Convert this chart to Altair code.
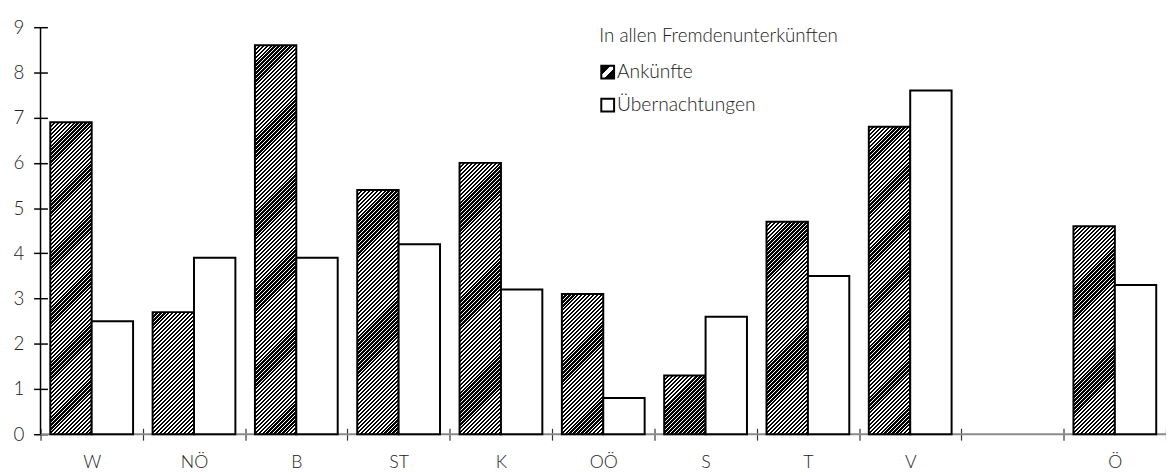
import altair as alt
import pandas as pd

# ---------------- data ----------------
categories = ["W", "NÖ", "B", "ST", "K", "OÖ", "S", "T", "V", " ", "Ö"]
bar_categories = ["W", "NÖ", "B", "ST", "K", "OÖ", "S", "T", "V", "Ö"]
ankuenfte = [6.9, 2.7, 8.6, 5.4, 6.0, 3.1, 1.3, 4.7, 6.8, 4.6]
uebernachtungen = [2.5, 3.9, 3.9, 4.2, 3.2, 0.8, 2.6, 3.5, 7.6, 3.3]
series = ["Ankünfte", "Übernachtungen"]
y_ticks = [0, 1, 2, 3, 4, 5, 6, 7, 8, 9]
legend_title = "In allen Fremdenunterkünften"

# ---------------- layout / style ----------------
W = 1142
H = 413
Y_MAX = 9
PAD_OUTER = 0.236
FONT = "Lato"
TEXT_COLOR = "#222222"

step_x = W / len(categories)
bar_w = step_x / (2 + 2 * PAD_OUTER)
px_per_unit = H / Y_MAX


def hatch(w, h, period=4.0, dark=0.58):
    """Diagonal (///) stripe fill as a linear gradient with hard stops."""
    L = w + h
    n = max(1, round(L / period))
    k = L / (w * w + h * h)
    stops = []
    for i in range(n):
        a = i / n
        b = (i + dark) / n
        c = (i + 1) / n
        stops += [
            alt.GradientStop(offset=a, color="black"),
            alt.GradientStop(offset=b, color="black"),
            alt.GradientStop(offset=b, color="white"),
            alt.GradientStop(offset=c, color="white"),
        ]
    return alt.Gradient(gradient="linear", stops=stops, x1=0, y1=0, x2=k * w, y2=k * h)


df = pd.DataFrame({
    "cat": bar_categories + bar_categories,
    "series": [series[0]] * len(bar_categories) + [series[1]] * len(bar_categories),
    "value": ankuenfte + uebernachtungen,
})

x_enc = alt.X(
    "cat:N",
    scale=alt.Scale(domain=categories, paddingInner=0, paddingOuter=0),
    axis=alt.Axis(
        title=None, labelAngle=0, tickBand="extent", tickSize=12, offset=-6,
        domain=False, grid=False, labelPadding=14, labelFontSize=18,
        labelFont=FONT, labelFontWeight=300, labelColor=TEXT_COLOR,
        tickColor="#333", tickWidth=1.2,
    ),
)
xoff_enc = alt.XOffset(
    "series:N",
    scale=alt.Scale(domain=series, paddingInner=0, paddingOuter=PAD_OUTER),
)
y_axis = alt.Axis(
    title=None, values=y_ticks, tickSize=14, offset=-7, domain=False,
    grid=False, labelPadding=10, labelFontSize=19, labelFont=FONT,
    labelFontWeight=300, labelColor=TEXT_COLOR, tickColor="black", tickWidth=1.5,
)
y_scale = alt.Scale(domain=[0, Y_MAX], nice=False, zero=True)
y_enc = alt.Y("value:Q", scale=y_scale, axis=y_axis)

base = alt.Chart(df)

layers = []

# x-axis base line (gray)
layers.append(
    alt.Chart(pd.DataFrame({"value": [0]}))
    .mark_rule(color="#8a8a8a", strokeWidth=2)
    .encode(y=y_enc)
)

# hatched bars (one layer each so the stripe fill fits its bar)
for c, v in zip(bar_categories, ankuenfte):
    layers.append(
        base.transform_filter(alt.FieldEqualPredicate(field="cat", equal=c))
        .transform_filter(alt.FieldEqualPredicate(field="series", equal=series[0]))
        .mark_bar(fill=hatch(bar_w, v * px_per_unit), stroke="black", strokeWidth=2)
        .encode(x=x_enc, xOffset=xoff_enc, y=y_enc)
    )

# white bars
layers.append(
    base.transform_filter(alt.FieldEqualPredicate(field="series", equal=series[1]))
    .mark_bar(fill="white", stroke="black", strokeWidth=2)
    .encode(x=x_enc, xOffset=xoff_enc, y=y_enc)
)

# y-axis line
layers.append(
    alt.Chart(pd.DataFrame({"value": [0], "top": [Y_MAX]}))
    .mark_rule(color="black", strokeWidth=1.5)
    .encode(x=alt.value(0), y=y_enc, y2="top:Q")
)

# ---------------- legend ----------------
LEG_X = 567
LEG_Y = 9
layers.append(
    alt.Chart(pd.DataFrame({"t": [legend_title]}))
    .mark_text(align="left", baseline="middle", fontSize=19, font=FONT,
               fontWeight=300, color=TEXT_COLOR)
    .encode(x=alt.value(LEG_X), y=alt.value(LEG_Y), text="t:N")
)
legend_fill = [
    alt.Gradient(
        gradient="linear", x1=0, y1=0, x2=1, y2=1,
        stops=[
            alt.GradientStop(offset=0, color="black"),
            alt.GradientStop(offset=0.38, color="black"),
            alt.GradientStop(offset=0.38, color="white"),
            alt.GradientStop(offset=0.6, color="white"),
            alt.GradientStop(offset=0.6, color="black"),
            alt.GradientStop(offset=1, color="black"),
        ],
    ),
    "white",
]
for i, s in enumerate(series):
    cy = LEG_Y + 36.5 + i * 33.5
    layers.append(
        alt.Chart(pd.DataFrame({"t": [s]}))
        .mark_rect(fill=legend_fill[i], stroke="black", strokeWidth=2)
        .encode(x=alt.value(LEG_X + 2), x2=alt.value(LEG_X + 15),
                y=alt.value(cy - 6.5), y2=alt.value(cy + 6.5))
    )
    layers.append(
        alt.Chart(pd.DataFrame({"t": [s]}))
        .mark_text(align="left", baseline="middle", fontSize=19.5, font=FONT,
                   fontWeight=300, color=TEXT_COLOR)
        .encode(x=alt.value(LEG_X + 18), y=alt.value(cy), text="t:N")
    )

chart = (
    alt.layer(*layers)
    .properties(width=W, height=H, background="white",
                autosize=alt.AutoSizeParams(type="none"),
                padding={"left": 33, "top": 16, "right": 0, "bottom": 46})
    .configure_view(stroke=None)
)

chart.save("out.html", embed_options={"renderer": "svg", "actions": False})
